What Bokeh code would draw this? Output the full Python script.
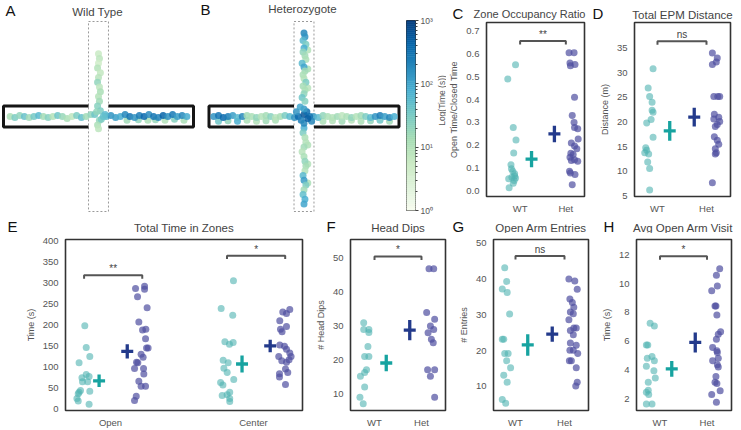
import numpy as np
from bokeh.plotting import figure
from bokeh.layouts import column, row
from bokeh.models import Range1d, FixedTicker, PrintfTickFormatter, ColumnDataSource
from bokeh.core.properties import value
from bokeh.transform import log_cmap
from bokeh.embed import file_html
from bokeh.resources import INLINE

FONT = "Liberation Sans"

# ---------------- EPM trajectory data (maze units, time in s) ----------------
A_CLOSED_L_X = [-0.93, -0.88, -0.83, -0.78, -0.73, -0.68, -0.63, -0.58, -0.53, -0.48, -0.43, -0.38, -0.33, -0.28, -0.23, -0.18, -0.13, -0.08]
A_CLOSED_L_Y = [0.0, -0.01, 0.01, 0.0, -0.01, 0.0, 0.01, 0.0, -0.01, 0.0, 0.01, 0.0, -0.02, 0.0, 0.01, -0.01, 0.0, 0.02]
A_CLOSED_L_T = [12, 30, 20, 45, 15, 35, 60, 14, 25, 10, 40, 18, 12, 8, 30, 50, 15, 20]
A_CLOSED_R_X = [0.08, 0.13, 0.18, 0.23, 0.28, 0.33, 0.38, 0.43, 0.48, 0.53, 0.58, 0.63, 0.68, 0.73, 0.78, 0.83, 0.88, 0.93]
A_CLOSED_R_Y = [0.0, 0.01, -0.01, 0.0, 0.02, 0.0, -0.01, 0.01, 0.0, 0.02, 0.0, -0.01, 0.01, 0.0, 0.02, 0.0, 0.01, 0.0]
A_CLOSED_R_T = [60, 150, 120, 90, 200, 300, 150, 250, 400, 180, 300, 220, 450, 160, 280, 120, 200, 90]
A_CLOSED_R2_X = [0.3, 0.42, 0.52, 0.6, 0.7, 0.8, 0.9]
A_CLOSED_R2_Y = [-0.04, -0.035, -0.04, -0.035, -0.04, -0.03, -0.04]
A_CLOSED_R2_T = [15, 20, 12, 18, 10, 25, 12]
A_OPEN_X = [0.0, 0.01, 0.0, -0.01, 0.02, 0.0, -0.01, 0.01, 0.02, 0.0, 0.01, -0.01, 0.02, 0.01, -0.01, 0.0]
A_OPEN_Y = [0.66, 0.61, 0.56, 0.51, 0.46, 0.41, 0.36, 0.31, 0.26, 0.21, 0.16, 0.11, 0.06, -0.04, -0.09, -0.13]
A_OPEN_T = [6, 8, 5, 10, 7, 9, 20, 8, 12, 10, 15, 25, 30, 20, 12, 8]
A_CENTER_X = [-0.04, 0.03, 0.07, -0.02, 0.05]
A_CENTER_Y = [0.02, -0.03, 0.02, 0.05, 0.0]
A_CENTER_T = [40, 30, 60, 20, 50]

B_CLOSED_L_X = [-0.95, -0.9, -0.85, -0.8, -0.75, -0.7, -0.65, -0.6, -0.55, -0.5, -0.45, -0.4, -0.35, -0.3, -0.25, -0.2, -0.15, -0.1]
B_CLOSED_L_Y = [0.0, 0.01, -0.01, 0.0, 0.01, -0.01, 0.0, 0.01, 0.0, -0.01, 0.0, 0.01, 0.0, -0.01, 0.0, 0.01, 0.0, -0.01]
B_CLOSED_L_T = [150, 300, 400, 250, 120, 60, 200, 15, 12, 20, 10, 14, 25, 9, 13, 30, 60, 150]
B_CLOSED_L2_X = [-0.9, -0.8, -0.7, -0.6, -0.5, -0.4, -0.3]
B_CLOSED_L2_Y = [-0.05, -0.045, -0.05, -0.04, -0.05, -0.045, -0.04]
B_CLOSED_L2_T = [40, 20, 80, 12, 10, 15, 12]
B_CLOSED_R_X = [0.1, 0.15, 0.2, 0.25, 0.3, 0.35, 0.4, 0.45, 0.5, 0.55, 0.6, 0.65, 0.7, 0.75, 0.8, 0.85, 0.9, 0.95]
B_CLOSED_R_Y = [0.0, -0.01, 0.01, 0.0, -0.01, 0.0, 0.01, 0.0, -0.01, 0.0, 0.01, 0.0, -0.01, 0.0, 0.01, 0.0, -0.01, 0.0]
B_CLOSED_R_T = [120, 60, 20, 12, 10, 15, 8, 12, 20, 10, 15, 30, 60, 150, 250, 120, 200, 80]
B_CLOSED_R2_X = [0.2, 0.3, 0.4, 0.5, 0.6, 0.7, 0.8, 0.9]
B_CLOSED_R2_Y = [-0.05, -0.045, -0.05, -0.04, -0.05, -0.045, -0.04, -0.05]
B_CLOSED_R2_T = [12, 10, 15, 9, 12, 20, 40, 15]
B_CENTER_X = [-0.06, 0.0, 0.06, -0.03, 0.03, 0.0, -0.08, 0.08, 0.0, 0.04, -0.04]
B_CENTER_Y = [0.0, 0.02, 0.0, -0.04, 0.05, -0.07, 0.05, -0.05, 0.08, -0.02, 0.1]
B_CENTER_T = [400, 600, 300, 250, 350, 200, 150, 200, 120, 500, 100]
B_OPEN_TOP_X = [0.0, 0.01, -0.01, 0.02, 0.0, -0.01, 0.01, 0.02, -0.02, 0.0, 0.01, -0.01, 0.0, 0.02, -0.01, 0.01, 0.0, -0.02, 0.01]
B_OPEN_TOP_Y = [0.88, 0.84, 0.8, 0.76, 0.72, 0.68, 0.64, 0.6, 0.56, 0.52, 0.48, 0.44, 0.4, 0.36, 0.32, 0.28, 0.24, 0.2, 0.16]
B_OPEN_TOP_T = [200, 150, 60, 30, 80, 20, 15, 12, 60, 100, 15, 12, 10, 30, 14, 12, 20, 40, 25]
B_OPEN_BOT_X = [0.0, -0.01, 0.01, 0.02, 0.0, -0.02, 0.0, 0.01, 0.02, 0.01, -0.01, 0.0, 0.02, 0.0, -0.01, 0.01, 0.0]
B_OPEN_BOT_Y = [-0.12, -0.17, -0.22, -0.27, -0.32, -0.37, -0.42, -0.47, -0.52, -0.57, -0.62, -0.67, -0.72, -0.77, -0.82, -0.87, -0.92]
B_OPEN_BOT_T = [80, 30, 12, 10, 15, 9, 12, 20, 14, 10, 60, 120, 30, 15, 50, 80, 100]
B_OPEN_2_X = [0.04, 0.04, 0.04, 0.04, 0.04, 0.04]
B_OPEN_2_Y = [0.7, 0.5, 0.3, -0.3, -0.5, -0.7]
B_OPEN_2_T = [10, 12, 9, 11, 10, 12]

CB_TICKS = [1, 10, 100, 1000]
CB_TICK_LABELS = ["10\u2070", "10\u00b9", "10\u00b2", "10\u00b3"]
CB_TITLE = "Log(Time (s))"

# ---------------- Behaviour data ----------------
GROUPS = ["WT", "Het"]
ZONES = ["Open", "Center"]

C_WT_Y = [0.49, 0.552, 0.278, 0.224, 0.167, 0.115, 0.098, 0.087, 0.076, 0.061, 0.054, 0.058, 0.047, 0.035, 0.015, 0.066]
C_WT_JIT = [-0.27, -0.10, -0.15, -0.09, -0.14, -0.20, -0.19, -0.16, -0.12, -0.18, -0.25, -0.10, -0.13, -0.15, -0.24, -0.12]
C_HET_Y = [0.604, 0.604, 0.559, 0.553, 0.547, 0.41, 0.33, 0.30, 0.278, 0.272, 0.228, 0.21, 0.197, 0.185, 0.166, 0.16, 0.148, 0.137, 0.134, 0.131, 0.087, 0.079, 0.073, 0.028]
C_HET_JIT = [0.07, 0.18, 0.09, 0.20, 0.10, 0.19, 0.14, 0.18, 0.19, 0.26, 0.27, 0.12, 0.19, 0.24, 0.11, 0.16, 0.09, 0.19, 0.12, 0.26, 0.08, 0.10, 0.20, 0.14]
C_MEAN = [0.14, 0.25]
C_SEM = [0.035, 0.036]
C_SIG = "**"
C_BRACKET_Y = 0.655
C_YTICKS = [0.0, 0.1, 0.2, 0.3, 0.4, 0.5, 0.6, 0.7]

D_WT_Y = [30.8, 26.9, 25.2, 24.0, 22.4, 22.0, 20.5, 19.8, 16.9, 14.8, 14.3, 13.8, 13.5, 11.9, 10.6, 6.2]
D_WT_JIT = [-0.09, -0.19, -0.16, -0.11, -0.11, -0.09, -0.13, -0.22, -0.09, -0.24, -0.22, -0.26, -0.18, -0.20, -0.16, -0.16]
D_HET_Y = [34.0, 33.0, 31.7, 32.2, 25.2, 25.2, 25.2, 21.6, 20.6, 21.0, 20.1, 19.1, 19.5, 17.0, 16.3, 15.5, 14.6, 13.8, 13.5, 7.7]
D_HET_JIT = [0.12, 0.22, 0.12, 0.20, 0.15, 0.23, 0.27, 0.16, 0.15, 0.25, 0.27, 0.18, 0.22, 0.16, 0.22, 0.25, 0.18, 0.20, 0.18, 0.12]
D_MEAN = [18.2, 21.0]
D_SEM = [2.0, 1.9]
D_SIG = "ns"
D_BRACKET_Y = 36.4
D_YTICKS = [5, 10, 15, 20, 25, 30, 35]

E_OPEN_WT_Y = [197, 145, 109, 124, 73, 81, 76, 64, 64, 43, 39, 41, 35, 24, 18, 10]
E_OPEN_WT_JIT = [-0.18, -0.17, -0.22, -0.145, -0.20, -0.17, -0.15, -0.196, -0.16, -0.21, -0.22, -0.145, -0.226, -0.235, -0.226, -0.15]
E_OPEN_HET_Y = [286, 291, 284, 266, 240, 206, 187, 189, 166, 144, 144, 129, 122, 110, 109, 95, 95, 82, 65, 53, 53, 29, 19]
E_OPEN_HET_JIT = [0.175, 0.238, 0.238, 0.189, 0.256, 0.198, 0.224, 0.247, 0.245, 0.252, 0.263, 0.214, 0.228, 0.182, 0.191, 0.168, 0.231, 0.233, 0.198, 0.214, 0.245, 0.18, 0.168]
E_CENTER_WT_Y = [304, 238, 222, 159, 153, 157, 115, 109, 96, 86, 69, 62, 56, 31, 39, 33, 24, 17]
E_CENTER_WT_JIT = [-0.14, -0.226, -0.145, -0.2, -0.168, -0.142, -0.212, -0.177, -0.207, -0.184, -0.138, -0.23, -0.214, -0.219, -0.166, -0.184, -0.166, -0.166]
E_CENTER_HET_Y = [230, 226, 236, 209, 195, 189, 183, 151, 148, 141, 132, 124, 124, 114, 110, 116, 94, 86, 83, 75, 57]
E_CENTER_HET_JIT = [0.205, 0.231, 0.254, 0.184, 0.231, 0.189, 0.2, 0.184, 0.217, 0.231, 0.254, 0.177, 0.263, 0.198, 0.231, 0.249, 0.224, 0.24, 0.182, 0.182, 0.224]
E_WT_MEAN = [66, 106]
E_WT_SEM = [15, 20]
E_HET_MEAN = [136, 149]
E_HET_SEM = [17, 15]
E_SIG = ["**", "*"]
E_BRACKET_Y = [317, 364]
E_YTICKS = [0, 50, 100, 150, 200, 250, 300, 350, 400]

F_WT_Y = [31, 29, 29, 28.1, 24, 21, 21, 17.1, 16.3, 15.2, 12, 9, 7.1]
F_WT_JIT = [-0.23, -0.23, -0.12, -0.12, -0.14, -0.21, -0.12, -0.17, -0.21, -0.30, -0.21, -0.31, -0.24]
F_HET_Y = [46.9, 46.9, 34, 32, 30, 29, 28, 26.1, 25.1, 17.1, 17.1, 15.2, 9]
F_HET_JIT = [0.16, 0.26, 0.11, 0.28, 0.19, 0.26, 0.14, 0.21, 0.25, 0.13, 0.28, 0.19, 0.28]
F_MEAN = [19.1, 28.8]
F_SEM = [2.4, 3.0]
F_SIG = "*"
F_BRACKET_Y = 50.5
F_YTICKS = [10, 20, 30, 40, 50]

G_WT_Y = [43.1, 39.3, 37.2, 36.2, 30.2, 23.2, 23.2, 19.2, 19.2, 17.2, 15.2, 13.1, 11.2, 6.4, 5.3]
G_WT_JIT = [-0.22, -0.18, -0.27, -0.17, -0.12, -0.24, -0.27, -0.22, -0.15, -0.18, -0.10, -0.24, -0.17, -0.27, -0.20]
G_HET_Y = [40.0, 39.4, 37.1, 34.4, 33.4, 32.1, 30.8, 30.3, 28.6, 26.3, 26.3, 25.6, 24.4, 22.1, 21.5, 20.1, 20.1, 19.2, 17.2, 17.2, 15.2, 11.2, 10.1]
G_HET_JIT = [0.09, 0.21, 0.26, 0.11, 0.16, 0.19, 0.12, 0.18, 0.09, 0.19, 0.24, 0.12, 0.18, 0.12, 0.24, 0.11, 0.18, 0.27, 0.10, 0.14, 0.24, 0.26, 0.23]
G_MEAN = [21.6, 24.6]
G_SEM = [3.0, 2.1]
G_SIG = "ns"
G_BRACKET_Y = 46.4
G_YTICKS = [10, 20, 30, 40, 50]

H_WT_Y = [7.23, 7.05, 5.73, 5.73, 4.81, 4.93, 4.63, 4.24, 3.94, 3.43, 3.13, 2.44, 2.58, 2.28, 1.63, 1.63]
H_WT_JIT = [-0.21, -0.12, -0.29, -0.26, -0.27, -0.17, -0.12, -0.29, -0.13, -0.10, -0.25, -0.29, -0.25, -0.24, -0.29, -0.17]
H_HET_Y = [11.03, 10.57, 9.83, 9.49, 8.43, 8.43, 7.81, 6.65, 6.47, 6.12, 5.55, 5.32, 5.2, 4.81, 4.63, 4.35, 4.19, 3.54, 3.13, 3.04, 2.55, 2.28, 1.75]
H_HET_JIT = [0.27, 0.20, 0.22, 0.10, 0.17, 0.19, 0.21, 0.29, 0.24, 0.20, 0.12, 0.21, 0.22, 0.24, 0.12, 0.22, 0.24, 0.19, 0.17, 0.21, 0.28, 0.10, 0.20]
H_MEAN = [4.07, 5.9]
H_SEM = [0.55, 0.7]
H_SIG = "*"
H_BRACKET_Y = 11.9
H_YTICKS = [2, 4, 6, 8, 10, 12]

# ---------------- styles ----------------
WT_DOT = "#4fb3b0"
HET_DOT = "#4f4f9f"
WT_MEAN_C = "#17a3a0"
HET_MEAN_C = "#233a8b"
GNBU = ["#f7fcf0", "#e0f3db", "#ccebc5", "#a8ddb5", "#7bccc4", "#4eb3d3", "#2b8cbe", "#0868ac", "#084081"]
TITLE_SIZE = "11.5px"
LETTER_SIZE = "15px"
TITLE_COLOR = "#444444"
LETTER_COLOR = "#111111"


def interp_colors(colors, n):
    rgb = np.array([[int(c[i:i + 2], 16) for i in (1, 3, 5)] for c in colors], float)
    pos = np.linspace(0, 1, len(colors))
    t = np.linspace(0, 1, n)
    out = np.stack([np.interp(t, pos, rgb[:, k]) for k in range(3)], 1)
    return ["#%02x%02x%02x" % tuple(int(round(v)) for v in r) for r in out]


PALETTE = interp_colors(GNBU, 256)


def no_align(p):
    if "frame_align" in p.properties():
        p.frame_align = False


def make_fig(w, h, bl, br, bt, bb, xr, yr, **kw):
    p = figure(width=w, height=h, x_range=Range1d(*xr), y_range=Range1d(*yr),
               min_border_left=bl, min_border_right=br, min_border_top=bt, min_border_bottom=bb,
               output_backend="svg", toolbar_location=None, title=None, **kw)
    p.grid.visible = False
    p.background_fill_color = "white"
    p.border_fill_color = "white"
    no_align(p)
    p._geom = (w - bl - br, h - bt - bb, xr, yr)
    return p


def put_text(p, x, y, text, size, color, align="center", angle=0.0):
    p.text(x=[x], y=[y], text=[text], text_font=value(FONT), text_font_size=size,
           text_color=color, text_align=align, text_baseline="middle", angle=angle)


def header(w, h, title, title_x, title_y, letter, letter_x, letter_y, title_size=TITLE_SIZE):
    """Strip above a panel holding its title and panel letter (pixel coordinates, y from top)."""
    p = make_fig(w, h, 0, 0, 0, 0, (0, w), (0, h), x_axis_location=None, y_axis_location=None)
    p.outline_line_color = None
    put_text(p, title_x, h - title_y, title, title_size, TITLE_COLOR)
    put_text(p, letter_x, h - letter_y, letter, LETTER_SIZE, LETTER_COLOR, align="left")
    return p


def style_axes(p, ylabel):
    for ax in p.axis:
        ax.axis_line_color = None
        ax.major_tick_line_color = None
        ax.minor_tick_line_color = None
        ax.major_tick_in = 0
        ax.major_tick_out = 0
        ax.minor_tick_in = 0
        ax.minor_tick_out = 0
        ax.major_label_text_font = FONT
        ax.major_label_text_font_size = "9.5px"
        ax.major_label_text_color = "#555555"
        ax.axis_label_text_font = FONT
        ax.axis_label_text_font_size = "9px"
        ax.axis_label_text_font_style = "normal"
        ax.axis_label_text_color = "#555555"
    p.xaxis.major_label_standoff = 6
    p.yaxis.major_label_standoff = 7
    p.yaxis.axis_label_standoff = 4
    p.yaxis.axis_label = ylabel
    p.outline_line_color = "#333333"
    p.outline_line_width = 1.6


def dots(p, center, jit, ys, color, alpha):
    p.scatter([center + j for j in jit], ys, size=7, marker="circle",
              fill_color=color, fill_alpha=alpha, line_color=None)


def mean_cross(p, x, m, s, color):
    p.segment(x0=[x], y0=[m - s], x1=[x], y1=[m + s], line_color=color, line_width=3.3)
    p.scatter([x], [m], marker="dash", size=12, line_color=color, line_width=3.3)


def bracket(p, x0, x1, y, label):
    fw, fh, xr, yr = p._geom
    d = (yr[1] - yr[0]) / fh * 3.5
    p.line([x0, x0, x1, x1], [y - d, y, y, y - d], line_color="#555555", line_width=2)
    p.text(x=[(x0 + x1) / 2], y=[y], text=[label], text_align="center", text_baseline="bottom",
           text_font=value(FONT), text_font_size="10px", text_color="#444444", y_offset=-1)


def stat_body(w, h, bl, br, bt, bb, xr, yr, yticks, ylabel,
              wt_y, wt_jit, het_y, het_jit, mean, sem, sig, by, fmt=None):
    p = make_fig(w, h, bl, br, bt, bb, xr, yr)
    style_axes(p, ylabel)
    p.xaxis.ticker = FixedTicker(ticks=[0, 1])
    p.xaxis.major_label_overrides = {0: GROUPS[0], 1: GROUPS[1]}
    p.yaxis.ticker = FixedTicker(ticks=yticks)
    if fmt:
        p.yaxis.formatter = PrintfTickFormatter(format=fmt)
    dots(p, 0, wt_jit, wt_y, WT_DOT, 0.6)
    dots(p, 1, het_jit, het_y, HET_DOT, 0.7)
    mean_cross(p, 0.25, mean[0], sem[0], WT_MEAN_C)
    mean_cross(p, 0.75, mean[1], sem[1], HET_MEAN_C)
    bracket(p, 0, 1, by, sig)
    return p


# ---------------- EPM panels ----------------
ARM_LEN = 1.0
ARM_W_CLOSED = 0.11
ARM_W_OPEN = 0.105
EPM_PX = 95.0          # pixels per maze unit
EPM_CY = 116           # maze centre, pixels from the top of the row
ROW1_H = 218
ROW2_H = 212


def epm_panel(w, cx, segs, title, title_px, letter, letter_px):
    xr = (-cx / EPM_PX, (w - cx) / EPM_PX)
    yr = (-(ROW1_H - EPM_CY) / EPM_PX, EPM_CY / EPM_PX)
    p = make_fig(w, ROW1_H, 0, 0, 0, 0, xr, yr, x_axis_location=None, y_axis_location=None)
    p.outline_line_color = None
    p.quad(left=[-ARM_W_OPEN], right=[ARM_W_OPEN], bottom=[-ARM_LEN], top=[ARM_LEN],
           fill_color=None, line_color="#9a9a9a", line_dash="2 2", line_width=1)
    p.multi_line(xs=[[-ARM_W_OPEN, -ARM_LEN, -ARM_LEN, -ARM_W_OPEN], [ARM_W_OPEN, ARM_LEN, ARM_LEN, ARM_W_OPEN]],
                 ys=[[ARM_W_CLOSED, ARM_W_CLOSED, -ARM_W_CLOSED, -ARM_W_CLOSED]] * 2,
                 line_color="#151515", line_width=3)
    xs, ys, ts = [], [], []
    for sx, sy, st in segs:
        xs += sx
        ys += sy
        ts += st
    src = ColumnDataSource(dict(x=xs, y=ys, t=ts))
    p.scatter("x", "y", source=src, size=7, marker="circle",
              fill_color=log_cmap("t", PALETTE, 1, 1000), fill_alpha=0.85, line_color=None)
    to_x = lambda px: (px - cx) / EPM_PX
    to_y = lambda py: (EPM_CY - py) / EPM_PX
    put_text(p, to_x(title_px[0]), to_y(title_px[1]), title, TITLE_SIZE, TITLE_COLOR)
    put_text(p, to_x(letter_px[0]), to_y(letter_px[1]), letter, LETTER_SIZE, LETTER_COLOR, align="left")
    return p


pa = epm_panel(199, 98,
               [(A_CLOSED_L_X, A_CLOSED_L_Y, A_CLOSED_L_T), (A_CLOSED_R2_X, A_CLOSED_R2_Y, A_CLOSED_R2_T),
                (A_CLOSED_R_X, A_CLOSED_R_Y, A_CLOSED_R_T), (A_OPEN_X, A_OPEN_Y, A_OPEN_T),
                (A_CENTER_X, A_CENTER_Y, A_CENTER_T)],
               "Wild Type", (97, 11), "A", (5, 10))
pb = epm_panel(203, 104.5,
               [(B_CLOSED_L2_X, B_CLOSED_L2_Y, B_CLOSED_L2_T), (B_CLOSED_R2_X, B_CLOSED_R2_Y, B_CLOSED_R2_T),
                (B_OPEN_2_X, B_OPEN_2_Y, B_OPEN_2_T), (B_OPEN_TOP_X, B_OPEN_TOP_Y, B_OPEN_TOP_T),
                (B_OPEN_BOT_X, B_OPEN_BOT_Y, B_OPEN_BOT_T), (B_CLOSED_L_X, B_CLOSED_L_Y, B_CLOSED_L_T),
                (B_CLOSED_R_X, B_CLOSED_R_Y, B_CLOSED_R_T), (B_CENTER_X, B_CENTER_Y, B_CENTER_T)],
               "Heterozygote", (103, 8), "B", (1, 9))

# ---------------- colour bar ----------------
pcb = figure(width=33, height=ROW1_H, x_range=Range1d(0, 1), y_range=Range1d(1, 1000), y_axis_type="log",
             y_axis_location="right", x_axis_location=None, min_border_left=4, min_border_right=20,
             min_border_top=20, min_border_bottom=8, output_backend="svg", toolbar_location=None, title=None)
pcb.grid.visible = False
pcb.border_fill_color = "white"
no_align(pcb)
edges = np.logspace(0, 3, 97)
cb_src = ColumnDataSource(dict(bottom=edges[:-1], top=edges[1:], mid=np.sqrt(edges[:-1] * edges[1:])))
pcb.quad(left=0, right=1, bottom="bottom", top="top", source=cb_src,
         fill_color=log_cmap("mid", PALETTE, 1, 1000), line_color=log_cmap("mid", PALETTE, 1, 1000), line_width=0.6)
pcb.outline_line_color = "#333333"
pcb.outline_line_width = 1
ax = pcb.yaxis[0]
ax.ticker = FixedTicker(ticks=CB_TICKS, minor_ticks=[m * d for d in (1, 10, 100) for m in range(2, 10)])
ax.major_label_overrides = {t: l for t, l in zip(CB_TICKS, CB_TICK_LABELS)}
ax.axis_line_color = None
ax.major_tick_line_color = "#444444"
ax.minor_tick_line_color = "#444444"
ax.major_tick_in = 0
ax.major_tick_out = 3
ax.minor_tick_in = 0
ax.minor_tick_out = 2
ax.major_label_standoff = 2
ax.major_label_text_font = FONT
ax.major_label_text_font_size = "8.5px"
ax.major_label_text_color = "#555555"

# rotated colour-bar title in its own narrow strip
pcbl = make_fig(11, ROW1_H, 0, 0, 0, 0, (0, 11), (0, ROW1_H), x_axis_location=None, y_axis_location=None)
pcbl.outline_line_color = None
put_text(pcbl, 6, ROW1_H - 100, CB_TITLE, "8.5px", "#555555", angle=np.pi / 2)

# ---------------- panels C and D ----------------
H1 = 21   # header height, top row
pc_body = stat_body(142, ROW1_H - H1, 33, 4, 1, 22, (-0.735, 1.408), (-0.023, 0.736), C_YTICKS,
                    "Open Time/Closed Time", C_WT_Y, C_WT_JIT, C_HET_Y, C_HET_JIT, C_MEAN, C_SEM,
                    C_SIG, C_BRACKET_Y, fmt="%.1f")
pc = column(header(142, H1, "Zone Occupancy Ratio", 83, 13, "C", 6, 12.5, title_size="11px"), pc_body)
pd_body = stat_body(153, ROW1_H - H1, 46, 11, 1, 22, (-0.469, 1.490), (4.9, 40.2), D_YTICKS,
                    "Distance (m)", D_WT_Y, D_WT_JIT, D_HET_Y, D_HET_JIT, D_MEAN, D_SEM,
                    D_SIG, D_BRACKET_Y)
pd_ = column(header(153, H1, "Total EPM Distance", 46 + 96 / 2, 14.5, "D", 4, 12.5), pd_body)

# ---------------- panel E ----------------
H2 = 15   # header height, bottom row
B2_TOP = 6  # body top border, bottom row (frame starts 21 px below row top)
E_YR = (-4.7, 402.4)
pe_body = make_fig(312, ROW2_H - H2, 65, 10, B2_TOP, 19, (-0.315, 1.343), E_YR)
style_axes(pe_body, "Time (s)")
pe_body.xaxis.ticker = FixedTicker(ticks=[0, 1])
pe_body.xaxis.major_label_overrides = {0: ZONES[0], 1: ZONES[1]}
pe_body.yaxis.ticker = FixedTicker(ticks=E_YTICKS)
for zi, (wy, wj, hy, hj) in enumerate([(E_OPEN_WT_Y, E_OPEN_WT_JIT, E_OPEN_HET_Y, E_OPEN_HET_JIT),
                                       (E_CENTER_WT_Y, E_CENTER_WT_JIT, E_CENTER_HET_Y, E_CENTER_HET_JIT)]):
    dots(pe_body, zi, wj, wy, WT_DOT, 0.6)
    dots(pe_body, zi, hj, hy, HET_DOT, 0.7)
    mean_cross(pe_body, zi - 0.08, E_WT_MEAN[zi], E_WT_SEM[zi], WT_MEAN_C)
    mean_cross(pe_body, zi + 0.117, E_HET_MEAN[zi], E_HET_SEM[zi], HET_MEAN_C)
    bracket(pe_body, zi - 0.185, zi + 0.222, E_BRACKET_Y[zi], E_SIG[zi])
pe = column(header(312, H2, "Total Time in Zones", 65 + 237 / 2, 9, "E", 7, 7.5), pe_body)

# ---------------- panels F, G, H ----------------
pf_body = stat_body(138, ROW2_H - H2, 38, 5, B2_TOP, 19, (-0.511, 1.511), (5.1, 55.5), F_YTICKS,
                    "# Head Dips", F_WT_Y, F_WT_JIT, F_HET_Y, F_HET_JIT, F_MEAN, F_SEM, F_SIG, F_BRACKET_Y)
pf = column(header(138, H2, "Head Dips", 38 + 95 / 2, 9, "F", 14, 7.5), pf_body)
pg_body = stat_body(148, ROW2_H - H2, 43, 10, B2_TOP, 19, (-0.449, 1.490), (3.3, 51.0), G_YTICKS,
                    "# Entries", G_WT_Y, G_WT_JIT, G_HET_Y, G_HET_JIT, G_MEAN, G_SEM, G_SIG, G_BRACKET_Y)
pg = column(header(148, H2, "Open Arm Entries", 43 + 95 / 2, 9, "G", 2, 7.5), pg_body)
ph_body = stat_body(143, ROW2_H - H2, 36, 10, B2_TOP, 19, (-0.5, 1.521), (1.17, 13.06), H_YTICKS,
                    "Time (s)", H_WT_Y, H_WT_JIT, H_HET_Y, H_HET_JIT, H_MEAN, H_SEM, H_SIG, H_BRACKET_Y)
ph = column(header(143, H2, "Avg Open Arm Visit", 36 + 97 / 2, 9, "H", 5, 7.5), ph_body)

layout = column(row(pa, pb, pcb, pcbl, pc, pd_), row(pe, pf, pg, ph))
open("out.html", "w").write(file_html(layout, INLINE))
